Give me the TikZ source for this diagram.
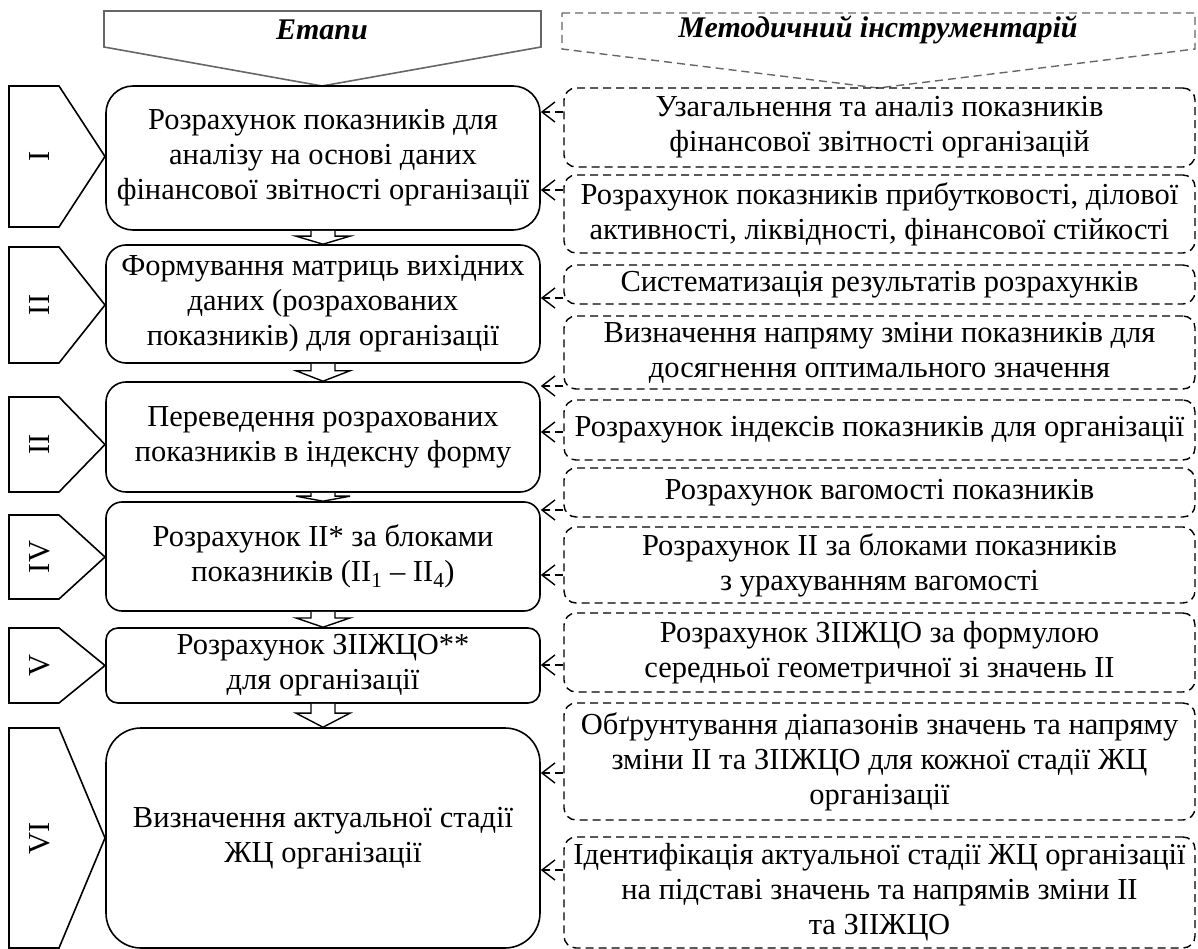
\documentclass[tikz,border=0pt]{standalone}
\usepackage{fontspec}
\setmainfont{Liberation Serif}
\usetikzlibrary{arrows.meta,calc}
\newcommand{\flowdown}[2]{%
  \draw[flow] let \p1=(#1.south), \p2=(#2.north), \p3=($(#1.south)!0.4!(#2.north)$) in
    (\x1-12pt,\y1) -- (\x1-12pt,\y3) -- (\x1-27pt,\y3) -- (\x1,\y2)
    -- (\x1+27pt,\y3) -- (\x1+12pt,\y3) -- (\x1+12pt,\y1);}

\begin{document}
\begin{tikzpicture}[x=1pt,y=-1pt,font=\fontsize{30.5}{35}\selectfont,
  stage/.style={draw,line width=1.6pt,rounded corners=20pt,align=center,minimum width=434pt,inner sep=1pt},
  tool/.style={draw,dash pattern=on 8pt off 5pt,line width=1.4pt,rounded corners=12pt,align=center,minimum width=631pt,inner sep=1pt},
  numtab/.style={draw,line width=1.6pt},
  flow/.style={draw,line width=1.4pt,fill=white},
  feed/.style={dash pattern=on 8pt off 5pt,line width=1.4pt,-{Straight Barb[length=13pt,width=20pt]}},
  headline/.style={font=\fontsize{30}{35}\selectfont\bfseries\itshape}]
  \useasboundingbox (0,0) rectangle (1198,949);

  % headers
  \draw[line width=1.6pt,black!60] (104,11) -- (541,11) -- (541,47) -- (322,86) -- (104,47) -- cycle;
  \node[headline] (hstage) at (322,30) {Етапи};
  \draw[line width=1.4pt,black!60,dash pattern=on 8pt off 5pt] (562,13) -- (1195,13) -- (1195,49) -- (878,88) -- (562,49) -- cycle;
  \node[headline] (htool) at (878,30) {Методичний інструментарій};

  % stage numbers
  \foreach \t/\b/\lab [count=\i] in {86/227/I, 247/363/II, 397/492/II, 515/599/IV, 628/703/V, 728/948/VI} {
    \draw[numtab] (9,\t) -- (59,\t) -- (105,{(\t+\b)/2}) -- (59,\b) -- (9,\b) -- cycle;
    \node[rotate=90] (m\i) at (40,{(\t+\b)/2}) {\lab};
  }

  % stages
  \node[stage,rounded corners=27pt,minimum height=144pt] (s1) at (323,158) {Розрахунок показників для\\аналізу на основі даних\\фінансової звітності організації};
  \node[stage,minimum height=118pt] (s2) at (323,304) {Формування матриць вихідних\\даних (розрахованих\\показників) для організації};
  \node[stage,minimum height=110pt] (s3) at (323,437) {Переведення розрахованих\\показників в індексну форму};
  \node[stage,rounded corners=16pt,minimum height=109pt] (s4) at (323,556.5) {Розрахунок ІІ* за блоками\\показників (ІІ\textsubscript{1} – ІІ\textsubscript{4})};
  \node[stage,rounded corners=12pt,minimum height=75pt] (s5) at (323,665.5) {Розрахунок ЗІІЖЦО**\\для організації};
  \node[stage,rounded corners=35pt,minimum height=220pt] (s6) at (323,838) {Визначення актуальної стадії\\ЖЦ організації};

  \flowdown{s1}{s2}
  \flowdown{s2}{s3}
  \flowdown{s3}{s4}
  \flowdown{s4}{s5}
  \flowdown{s5}{s6}

  % tools
  \node[tool,minimum height=79pt] (r1) at (879.5,127.5) {Узагальнення та аналіз показників\\фінансової звітності організацій};
  \node[tool,minimum height=78pt] (r2) at (879.5,214) {Розрахунок показників прибутковості, ділової\\активності, ліквідності, фінансової стійкості};
  \node[tool,minimum height=39pt] (r3) at (879.5,284.5) {Систематизація результатів розрахунків};
  \node[tool,minimum height=73pt] (r4) at (879.5,352.5) {Визначення напряму зміни показників для\\досягнення оптимального значення};
  \node[tool,minimum height=60pt] (r5) at (879.5,430) {Розрахунок індексів показників для організації};
  \node[tool,minimum height=49pt] (r6) at (879.5,492.5) {Розрахунок вагомості показників};
  \node[tool,minimum height=76pt] (r7) at (879.5,565) {Розрахунок ІІ за блоками показників\\з урахуванням вагомості};
  \node[tool,minimum height=79pt] (r8) at (879.5,652.5) {Розрахунок ЗІІЖЦО за формулою\\середньої геометричної зі значень ІІ};
  \node[tool,minimum height=117pt] (r9) at (879.5,761.5) {Обґрунтування діапазонів значень та напряму\\зміни ІІ та ЗІІЖЦО для кожної стадії ЖЦ\\організації};
  \node[tool,minimum height=111pt] (r10) at (879.5,892.5) {Ідентифікація актуальної стадії ЖЦ організації\\на підставі значень та напрямів зміни ІІ\\та ЗІІЖЦО};

  \foreach \r/\s/\y in {r1/s1/112, r2/s1/190, r3/s2/298, r4/s3/386, r5/s3/432, r6/s4/510, r7/s4/575, r8/s5/665, r9/s6/773, r10/s6/870}
    \draw[feed] (\r.west |- 0,\y) -- (\s.east |- 0,\y);
\end{tikzpicture}
\end{document}
